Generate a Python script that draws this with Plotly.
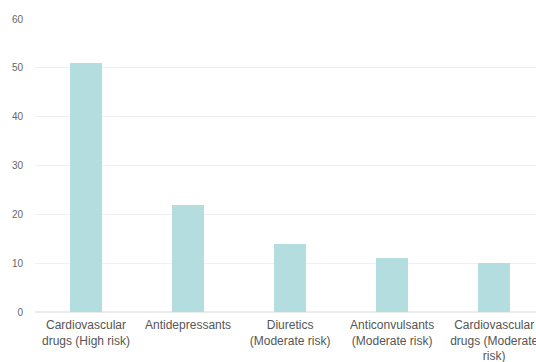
import plotly.graph_objects as go

categories = [
    "Cardiovascular<br>drugs (High risk)",
    "Antidepressants",
    "Diuretics<br>(Moderate risk)",
    "Anticonvulsants<br>(Moderate risk)",
    "Cardiovascular<br>drugs (Moderate<br>risk)",
]
values = [51, 22, 14, 11, 10]
y_ticks = [0, 10, 20, 30, 40, 50, 60]

fig = go.Figure(
    go.Bar(
        x=list(range(len(categories))),
        y=values,
        width=0.31,
        marker=dict(color="#b4dde0", line=dict(width=0)),
    )
)

fig.update_layout(
    width=536,
    height=362,
    margin=dict(l=35, r=0, t=19, b=50, autoexpand=False),
    paper_bgcolor="white",
    plot_bgcolor="white",
    font=dict(family="Liberation Sans, Arial, sans-serif", size=10, color="#666666"),
    showlegend=False,
    bargap=0,
)

fig.update_xaxes(
    tickmode="array",
    tickvals=list(range(len(categories))),
    ticktext=categories,
    range=[-0.5, 4.41],
    showgrid=False,
    showline=False,
    zeroline=False,
    ticks="",
    tickangle=0,
    automargin=False,
    ticklabeloverflow="allow",
    ticklabelstandoff=4,
    tickfont=dict(size=12, color="#555555"),
)

fig.update_yaxes(
    range=[0, 60],
    tickvals=y_ticks,
    showgrid=True,
    gridcolor="#f0f0f0",
    gridwidth=1,
    zeroline=True,
    zerolinecolor="#ececec",
    showline=False,
    ticks="",
    automargin=False,
    ticklabelstandoff=11,
    tickfont=dict(size=10, color="#666666"),
)

fig.write_html("out.html")
